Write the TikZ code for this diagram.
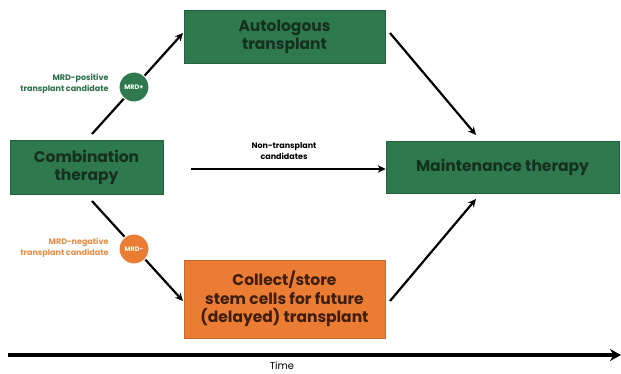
\documentclass[tikz,border=0pt]{standalone}
\usepackage{fontspec}
\setmainfont{Poppins}
\usetikzlibrary{arrows.meta}
\definecolor{boxgreen}{RGB}{46,121,78}
\definecolor{boxorange}{RGB}{234,124,52}
\definecolor{greentext}{RGB}{22,48,30}
\definecolor{orangetext}{RGB}{62,30,12}
\definecolor{labgreen}{RGB}{40,110,70}
\definecolor{laborange}{RGB}{232,140,70}
\tikzset{
  greenbox/.style={draw=boxgreen!80!black, line width=0.6pt, fill=boxgreen, text=greentext,
    font=\bfseries\fontsize{15.5}{18}\selectfont, align=center, inner sep=0pt},
  orangebox/.style={draw=boxorange!85!black, line width=0.6pt, fill=boxorange, text=orangetext,
    font=\bfseries\fontsize{15.5}{18.5}\selectfont, align=center, inner sep=0pt},
  badge/.style={circle, minimum size=30pt, inner sep=0pt, text=white, draw=white, line width=1pt,
    font=\bfseries\fontsize{6.5}{7}\selectfont},
  flow/.style={line width=2.2pt, -{Stealth[length=8pt,width=7.5pt]}},
  sidelabel/.style={align=right, anchor=east, font=\bfseries\fontsize{8}{10.5}\selectfont},
}
\begin{document}
\begin{tikzpicture}[x=1pt,y=-1pt]
\useasboundingbox (0,0) rectangle (621,374);
% boxes
\node[greenbox, minimum width=153pt, minimum height=54pt] (combo) at (86.5,167) {Combination\\therapy};
\node[greenbox, minimum width=201pt, minimum height=53pt] (auto) at (284.5,36.5) {Autologous\\transplant};
\node[greenbox, minimum width=233pt, minimum height=52pt] (maint) at (502.5,167) {Maintenance therapy};
\node[orangebox, minimum width=201pt, minimum height=78pt] (stem) at (284.5,299) {Collect/store\\stem cells for future\\(delayed) transplant};
% branch points on the boxes
\coordinate (comboTop) at (92,134);
\coordinate (comboBot) at (92,201);
\coordinate (autoIn) at (183,33);
\coordinate (autoOut) at (390,33);
\coordinate (stemIn) at (183,301);
\coordinate (stemOut) at (390,301);
\coordinate (maintTop) at (476,135);
\coordinate (maintBot) at (476,199);
% connectors
\draw[flow] (comboTop) -- (autoIn);
\draw[flow] (comboBot) -- (stemIn);
\draw[flow] (autoOut) -- (maintTop);
\draw[flow] (stemOut) -- (maintBot);
\draw[flow] (combo.east) ++(28,2) coordinate (hstart) -- (hstart -| maint.west) coordinate (hend);
\node[font=\bfseries\fontsize{8}{10.5}\selectfont, align=center] (nontx) at (284,151) {Non-transplant\\candidates};
% MRD badges on the branches
\node[badge, fill=boxgreen] (mrdpos) at (134,87) {MRD+};
\node[badge, fill=boxorange] (mrdneg) at (134,249) {MRD-};
\node[sidelabel, text=labgreen] (poslab) at (112,84) {MRD-positive\\transplant candidate};
\node[sidelabel, text=laborange] (neglab) at (112,248) {MRD-negative\\transplant candidate};
% time axis
\coordinate (t0) at (8,355);
\coordinate (t1) at (621,355);
\draw[line width=4.5pt, -{Stealth[length=11pt,width=12pt]}] (t0) -- (t1);
\node[font=\fontsize{10}{12}\selectfont] (time) at (282,366) {Time};
\end{tikzpicture}
\end{document}
